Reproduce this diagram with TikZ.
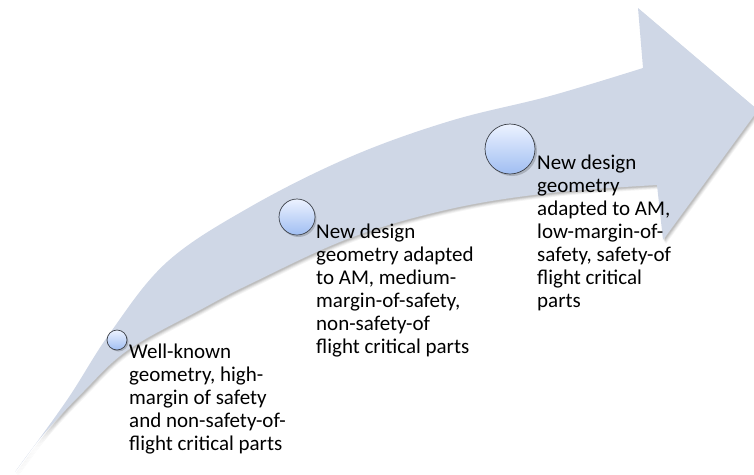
\documentclass[tikz,border=0pt]{standalone}
\usepackage{fontspec}
\setmainfont{Carlito}
\definecolor{arrowfill}{RGB}{207,215,230}
\definecolor{dottop}{RGB}{236,242,255}
\definecolor{dotbot}{RGB}{160,190,242}
\definecolor{dotline}{RGB}{60,64,72}
\begin{document}
\begin{tikzpicture}[x=1pt,y=-1pt,
  lbl/.style={font=\fontsize{21}{23}\selectfont, align=left, inner sep=0pt, anchor=base west, text=black},
  dot/.style={circle, inner sep=0pt, top color=dottop, bottom color=dotbot, draw=dotline, line width=0.7pt},
  dotshadow/.style={circle, inner sep=0pt, fill=black, opacity=0.18}]
\useasboundingbox (0,0) rectangle (754,474);
\clip (0,0) rectangle (754,474);
\def\arrowpath{plot[smooth, tension=0.6] coordinates {(15,472) (67,400) (110,333) (167,262) (250,207) (350,157) (450,121) (550,96) (643,68)} -- (638,8) -- (758,110) -- (663,240) -- (657,185) -- plot[smooth, tension=0.6] coordinates {(657,185) (550,193) (450,209) (350,238) (250,284) (200,310) (128,350) (83,392) (43,435) (15,472)} -- cycle}
% soft shadow
\foreach \dx/\dy/\op in {3/4/0.04, 2.5/3.2/0.05, 2/2.5/0.06, 1.5/1.8/0.07, 1/1.2/0.07}{
  \fill[black, opacity=\op, shift={(\dx,\dy)}] \arrowpath;
}
\fill[arrowfill] \arrowpath;
% circles
\node[dotshadow, minimum size=20pt] at (118.5,341.5) {};
\node[dot, minimum size=20pt] (c1) at (117,340) {};
\node[dotshadow, minimum size=36pt] at (298.5,219) {};
\node[dot, minimum size=36pt] (c2) at (297,217) {};
\node[dotshadow, minimum size=50pt] at (512,151) {};
\node[dot, minimum size=50pt] (c3) at (510,149) {};
% labels (base anchor = baseline of last line)
\node[lbl] (t1) at (129,450) {Well-known\\geometry, high-\\margin of safety\\and non-safety-of-\\flight critical parts};
\node[lbl] (t2) at (316,353) {New design\\geometry adapted\\to AM, medium-\\margin-of-safety,\\non-safety-of\\flight critical parts};
\node[lbl] (t3) at (537,307) {New design\\geometry\\adapted to AM,\\low-margin-of-\\safety, safety-of\\flight critical\\parts};
\end{tikzpicture}
\end{document}
